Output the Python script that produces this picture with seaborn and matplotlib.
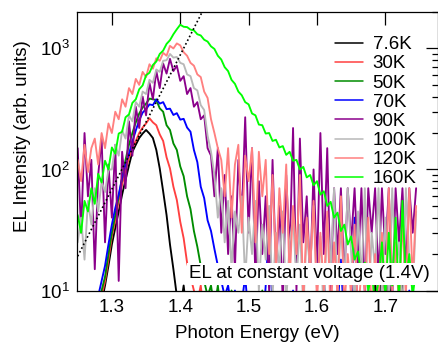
import numpy as np
import pandas as pd
import matplotlib
matplotlib.use("Agg")
import matplotlib.pyplot as plt
import seaborn as sns
from matplotlib.ticker import LogLocator, NullFormatter

# ---------------- data ----------------
energy = [
    1.250, 1.255, 1.260, 1.265, 1.270, 1.275, 1.280, 1.285, 1.290, 1.295,
    1.300, 1.305, 1.310, 1.315, 1.320, 1.325, 1.330, 1.335, 1.340, 1.345,
    1.350, 1.355, 1.360, 1.365, 1.370, 1.375, 1.380, 1.385, 1.390, 1.395,
    1.400, 1.405, 1.410, 1.415, 1.420, 1.425, 1.430, 1.435, 1.440, 1.445,
    1.450, 1.455, 1.460, 1.465, 1.470, 1.475, 1.480, 1.485, 1.490, 1.495,
    1.500, 1.505, 1.510, 1.515, 1.520, 1.525, 1.530, 1.535, 1.540, 1.545,
    1.550, 1.555, 1.560, 1.565, 1.570, 1.575, 1.580, 1.585, 1.590, 1.595,
    1.600, 1.605, 1.610, 1.615, 1.620, 1.625, 1.630, 1.635, 1.640, 1.645,
    1.650, 1.655, 1.660, 1.665, 1.670, 1.675, 1.680, 1.685, 1.690, 1.695,
    1.700, 1.705, 1.710, 1.715, 1.720, 1.725, 1.730, 1.735, 1.740, 1.745,
]

el_7_6K = [
    3, 4, 3, 5, 4, 6, 6, 8, 11, 16,
    24, 33, 45, 62, 82, 108, 140, 160, 182, 198,
    212, 198, 182, 145, 102, 66, 42, 24, 15, 9,
    7, 11, 6, 9, 5, 8, 4, 7, 5, 6,
    4, 7, 5, 3, 6, 4, 8, 5, 3, 6,
    5, 3, 7, 4, 6, 3, 5, 8, 4, 5,
    3, 6, 4, 5, 7, 3, 5, 4, 6, 3,
    5, 4, 7, 3, 5, 6, 4, 8, 3, 5,
    4, 6, 3, 7, 5, 9, 4, 12, 6, 26,
    8, 14, 5, 9, 4, 11, 6, 8, 4, 7,
]
el_30K = [
    3, 4, 5, 4, 6, 5, 7, 9, 12, 18,
    28, 38, 55, 75, 98, 125, 150, 172, 200, 222,
    240, 265, 245, 232, 195, 172, 126, 102, 72, 56,
    37, 27, 17, 13, 10, 8, 11, 6, 9, 5,
    7, 4, 8, 5, 6, 3, 9, 5, 4, 7,
    5, 8, 4, 6, 3, 7, 5, 4, 6, 3,
    6, 4, 9, 3, 5, 7, 4, 6, 3, 5,
    4, 7, 3, 6, 5, 3, 8, 4, 6, 3,
    5, 3, 6, 4, 9, 3, 5, 7, 4, 6,
    3, 5, 7, 4, 6, 3, 8, 4, 5, 3,
]
el_50K = [
    3, 4, 3, 5, 6, 5, 8, 10, 13, 20,
    30, 42, 60, 85, 120, 160, 200, 245, 290, 325,
    350, 385, 380, 375, 320, 300, 232, 212, 164, 145,
    106, 88, 60, 47, 31, 23, 16, 12, 9, 11,
    7, 11, 6, 9, 5, 10, 7, 4, 8, 6,
    9, 5, 7, 4, 10, 6, 3, 8, 5, 7,
    4, 8, 6, 3, 7, 5, 9, 4, 6, 5,
    7, 3, 6, 9, 4, 5, 8, 3, 6, 4,
    6, 9, 4, 7, 5, 3, 8, 6, 4, 7,
    5, 8, 3, 6, 9, 4, 7, 5, 3, 6,
]
el_70K = [
    3, 4, 5, 4, 6, 7, 9, 12, 16, 24,
    35, 48, 62, 85, 110, 135, 170, 210, 255, 295,
    315, 345, 340, 380, 350, 360, 315, 318, 282, 292,
    258, 262, 222, 205, 145, 115, 72, 58, 38, 31,
    22, 16, 12, 9, 11, 7, 10, 6, 8, 13,
    6, 9, 5, 8, 4, 11, 33, 7, 5, 9,
    4, 7, 6, 10, 5, 8, 3, 7, 9, 5,
    8, 5, 12, 6, 4, 9, 7, 18, 5, 8,
    6, 40, 4, 7, 9, 5, 8, 6, 11, 4,
    7, 5, 9, 4, 8, 6, 5, 10, 6, 4,
]
el_90K = [
    150, 30, 200, 60, 120, 15, 90, 180, 25, 110,
    40, 160, 12, 140, 70, 250, 130, 330, 220, 400,
    280, 520, 380, 650, 470, 750, 620, 820, 650, 720,
    540, 590, 420, 470, 330, 360, 260, 280, 150, 130,
    60, 150, 30, 90, 20, 60, 15, 120, 40, 270,
    30, 150, 12, 80, 20, 60, 10, 120, 15, 50,
    8, 90, 20, 220, 10, 180, 25, 60, 12, 100,
    15, 200, 20, 150, 10, 70, 20, 70, 12, 70,
    25, 70, 15, 70, 9, 70, 30, 70, 12, 70,
    20, 70, 8, 70, 25, 70, 15, 70, 30, 70,
]
el_100K = [
    25, 40, 18, 55, 35, 70, 45, 80, 65, 100,
    100, 160, 130, 210, 180, 280, 250, 360, 330, 440,
    420, 550, 520, 670, 640, 790, 800, 900, 840, 850,
    760, 740, 610, 590, 470, 450, 340, 310, 190, 140,
    90, 40, 70, 25, 55, 15, 45, 30, 60, 12,
    40, 20, 55, 10, 35, 18, 50, 9, 30, 15,
    45, 8, 25, 40, 12, 35, 7, 30, 15, 50,
    10, 28, 6, 40, 15, 70, 9, 35, 12, 70,
    20, 8, 45, 12, 70, 6, 30, 15, 70, 10,
    40, 8, 70, 14, 25, 6, 70, 18, 9, 45,
]
el_120K = [
    120, 80, 160, 95, 150, 180, 110, 200, 150, 240,
    200, 300, 260, 380, 330, 470, 420, 560, 500, 640,
    580, 740, 680, 830, 790, 920, 870, 1050, 1000, 1100,
    1060, 930, 870, 760, 720, 610, 580, 440, 390, 260,
    200, 150, 120, 60, 150, 40, 110, 160, 30, 130,
    80, 150, 25, 140, 60, 120, 20, 90, 15, 70,
    30, 110, 12, 50, 20, 90, 8, 40, 15, 55,
    8, 30, 10, 45, 6, 25, 9, 60, 7, 20,
    9, 35, 6, 15, 10, 40, 6, 20, 9, 30,
    8, 70, 10, 25, 7, 40, 9, 70, 12, 50,
]
el_160K = [
    42, 30, 55, 45, 70, 52, 92, 78, 118, 100,
    152, 135, 198, 205, 270, 285, 355, 380, 460, 495,
    600, 630, 730, 780, 900, 960, 1090, 1170, 1310, 1440,
    1570, 1510, 1500, 1430, 1410, 1310, 1280, 1180, 1140, 1040,
    990, 870, 810, 700, 650, 550, 510, 440, 410, 360,
    345, 290, 280, 235, 232, 198, 200, 172, 176, 152,
    156, 132, 140, 118, 120, 100, 105, 86, 90, 74,
    80, 62, 66, 50, 54, 40, 44, 31, 35, 24,
    28, 18, 21, 13, 17, 10, 14, 8, 12, 25,
    9, 30, 11, 40, 8, 55, 12, 20, 9, 15,
]

temperatures = ["7.6K", "30K", "50K", "70K", "90K", "100K", "120K", "160K"]
series = [el_7_6K, el_30K, el_50K, el_70K, el_90K, el_100K, el_120K, el_160K]
colors = ["#000000", "#ff4040", "#008c00", "#0000ff",
          "#8b008b", "#b8b8b8", "#ff8080", "#00ff00"]

# Boltzmann-tail guide line (dotted)
guide_energy = [1.25, 1.44]
guide_intensity = [19.2, 2450]

x_ticks = [1.3, 1.4, 1.5, 1.6, 1.7]
annotation = "EL at constant voltage (1.4V)"

# ---------------- build table ----------------
df = pd.DataFrame({
    "energy": np.tile(energy, len(series)),
    "intensity": np.concatenate([np.asarray(s, float) for s in series]),
    "T": np.repeat(temperatures, len(energy)),
})

sns.set_style("white")
plt.rcParams["font.family"] = ["Liberation Sans", "DejaVu Sans"]
plt.rcParams["mathtext.fontset"] = "custom"
plt.rcParams["mathtext.rm"] = "Liberation Sans"
plt.rcParams["mathtext.it"] = "Liberation Sans:italic"
plt.rcParams["text.color"] = "black"
plt.rcParams["axes.labelcolor"] = "black"
plt.rcParams["xtick.color"] = "black"
plt.rcParams["ytick.color"] = "black"
FS = 13.5

W, H = 438, 345
fig = plt.figure(figsize=(W / 100, H / 100), dpi=100)
ax = fig.add_axes([77 / W, 1 - 290.5 / H, (438 - 77) / W, (290.5 - 12) / H])

sns.lineplot(data=df, x="energy", y="intensity", hue="T",
             hue_order=temperatures, palette=dict(zip(temperatures, colors)),
             estimator=None, sort=False, linewidth=1.35, ax=ax, legend=True)

ax.plot(guide_energy, guide_intensity, color="black", linestyle=(0, (1, 1.5)),
        linewidth=1.2, zorder=5)

ax.set_yscale("log")
ax.set_xlim(1.249, 1.777)
ax.set_ylim(10, 2000)

ax.set_xticks(x_ticks)
ax.set_xticklabels([f"{v:.1f}" for v in x_ticks])
ax.yaxis.set_major_locator(LogLocator(base=10, numticks=10))
ax.yaxis.set_minor_locator(LogLocator(base=10, subs=np.arange(2, 10), numticks=20))
ax.yaxis.set_minor_formatter(NullFormatter())

ax.tick_params(axis="both", which="major", direction="in", length=9, width=0.9,
               labelsize=FS, top=True, right=True, colors="black",
               labelcolor="black")
ax.tick_params(axis="x", which="major", pad=6)
ax.tick_params(axis="y", which="major", pad=5)
ax.tick_params(axis="y", which="minor", direction="in", length=4.5, width=0.9,
               right=True, colors="black")

for sp in ax.spines.values():
    sp.set_linewidth(0.9)
    sp.set_color("black")

ax.set_xlabel("Photon Energy (eV)", fontsize=FS, color="black")
ax.set_ylabel("EL Intensity (arb. units)", fontsize=FS, color="black")
ax.xaxis.set_label_coords(0.5, -(325 - 290.5) / 278.5)
ax.yaxis.set_label_coords((31 - 77) / 361, (290.5 - 136) / 278.5)

leg = ax.legend(loc="upper left", bbox_to_anchor=(335 / W, 1 - 36 / H),
                bbox_transform=fig.transFigure, frameon=False, fontsize=FS,
                borderpad=0, borderaxespad=0, handlelength=1.5,
                handletextpad=0.5, labelspacing=0.11)
for line in leg.get_lines():
    line.set_linewidth(1.1)
for t in leg.get_texts():
    t.set_color("black")

ax.text((309 - 77) / 361, (290.5 - 274) / 278.5, annotation, fontsize=FS,
        ha="center", va="center", transform=ax.transAxes, zorder=10,
        color="black", bbox=dict(facecolor="white", edgecolor="none", pad=1.5))

fig.savefig("out.png", dpi=100)
